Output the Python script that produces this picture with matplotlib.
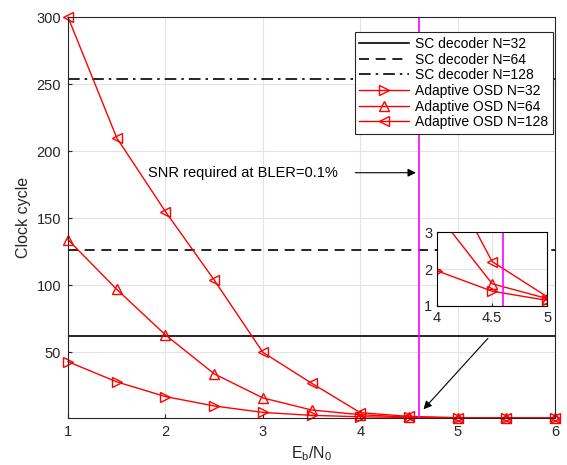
import matplotlib.pyplot as plt

plt.rcParams['font.family'] = ['Liberation Sans', 'DejaVu Sans']
plt.rcParams['mathtext.fontset'] = 'custom'
plt.rcParams['mathtext.rm'] = 'Liberation Sans'

# data
snr = [1, 1.5, 2, 2.5, 3, 3.5, 4, 4.5, 5, 5.5, 6]
osd_32 = [43, 28, 17, 10, 5.2, 3, 1.95, 1.4, 1.15, 1.05, 1.0]
osd_64 = [134, 97, 63, 34, 16, 7, 3.5, 1.6, 1.2, 1.05, 1.0]
osd_128 = [300, 210, 155, 104, 50, 27, 5, 2.2, 1.25, 1.05, 1.0]
sc_levels = [62, 126, 254]
sc_labels = ["SC decoder N=32", "SC decoder N=64", "SC decoder N=128"]
sc_dashes = [(None, None), (6, 4), (7, 3, 1.5, 3)]
snr_req = 4.6


def draw_curves(ax, clip=True, lw=1.0, ms=7):
    ax.plot(snr, osd_32, color="red", marker=">", mfc="none", lw=lw, ms=ms,
            label="Adaptive OSD N=32", clip_on=clip)
    ax.plot(snr, osd_64, color="red", marker="^", mfc="none", lw=lw, ms=ms,
            label="Adaptive OSD N=64", clip_on=clip)
    ax.plot(snr, osd_128, color="red", marker="<", mfc="none", lw=lw, ms=ms,
            label="Adaptive OSD N=128", clip_on=clip)


fig = plt.figure(figsize=(5.67, 4.65), dpi=100)
ax = fig.add_axes([0.12, 0.101, 0.859, 0.862])

# SC decoder horizontal lines
for lvl, lab, dsh in zip(sc_levels, sc_labels, sc_dashes):
    line = ax.axhline(lvl, color="black", lw=1.2, label=lab)
    if dsh[0] is not None:
        line.set_dashes(dsh)

draw_curves(ax, clip=False)
ax.axvline(snr_req, color="magenta", lw=1.2)

ax.set_xlim(1, 6)
ax.set_ylim(1, 300)
ax.set_yticks([50, 100, 150, 200, 250, 300])
ax.set_xticks([1, 2, 3, 4, 5, 6])
ax.grid(True, color="#e3e3e3", lw=0.8)
ax.set_axisbelow(True)
ax.tick_params(labelsize=10.5, direction="in", length=3, colors="#262626", pad=5)
for s in ax.spines.values():
    s.set_color("#262626")
ax.set_xlabel(r"$\mathregular{E_b/N_0}$", fontsize=11.5, color="#262626")
ax.set_ylabel("Clock cycle", fontsize=11.5, color="#262626")

leg = ax.legend(loc="upper right", bbox_to_anchor=(553 / 567, 1 - 32 / 465),
                bbox_transform=fig.transFigure, borderaxespad=0,
                fontsize=10, frameon=True, fancybox=False, framealpha=1,
                edgecolor="#262626", handlelength=3.6,
                labelspacing=0.12, borderpad=0.35, handletextpad=0.4)
leg.get_frame().set_linewidth(0.8)
leg.set_zorder(5)

# annotations
ax.annotate("", xy=(snr_req, 184), xytext=(3.92, 184),
            arrowprops=dict(arrowstyle="-|>", color="black", lw=0.8,
                            mutation_scale=12))
ax.text(1.82, 184, "SNR required at BLER=0.1%", fontsize=10.5, va="center")
ax.annotate("", xy=(4.63, 6), xytext=(5.33, 62),
            arrowprops=dict(arrowstyle="-|>", color="black", lw=0.8,
                            mutation_scale=12))

# inset
ins = fig.add_axes([0.771, 0.342, 0.194, 0.159])
draw_curves(ins, lw=1.0, ms=7)
ins.axvline(snr_req, color="magenta", lw=1.2)
ins.set_xlim(4, 5)
ins.set_ylim(1, 3)
ins.set_xticks([4, 4.5, 5])
ins.set_xticklabels(["4", "4.5", "5"])
ins.set_yticks([1, 2, 3])
ins.grid(True, color="#e3e3e3", lw=0.8)
ins.tick_params(labelsize=10.5, direction="in", length=2, colors="#262626")

fig.savefig("out.png", dpi=100)
